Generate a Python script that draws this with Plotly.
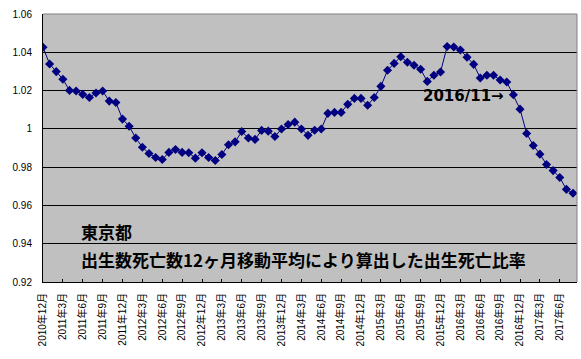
import plotly.graph_objects as go

# Monthly series 2010/12 .. 2017/8 (81 points)
start_year, start_month = 2010, 12
ratio = [
    1.0426, 1.0339, 1.0299, 1.0259, 1.0201, 1.0198, 1.0180, 1.0164, 1.0187, 1.0198,
    1.0145, 1.0138, 1.0051, 1.0014, 0.9952, 0.9904, 0.9871, 0.9850, 0.9840, 0.9877,
    0.9892, 0.9877, 0.9875, 0.9847, 0.9875, 0.9850, 0.9835, 0.9866, 0.9917, 0.9932,
    0.9986, 0.9952, 0.9945, 0.9992, 0.9988, 0.9960, 0.9999, 1.0023, 1.0035, 0.9999,
    0.9966, 0.9993, 0.9999, 1.0081, 1.0086, 1.0086, 1.0128, 1.0159, 1.0159, 1.0123,
    1.0164, 1.0222, 1.0306, 1.0342, 1.0377, 1.0348, 1.0332, 1.0311, 1.0248, 1.0280,
    1.0297, 1.0430, 1.0428, 1.0412, 1.0374, 1.0337, 1.0266, 1.0280, 1.0280, 1.0255,
    1.0245, 1.0178, 1.0103, 0.9976, 0.9913, 0.9868, 0.9814, 0.9782, 0.9746, 0.9684,
    0.9664,
]

months = []
y, m = start_year, start_month
for _ in ratio:
    months.append(f"{y}年{m}月")
    m += 1
    if m > 12:
        m = 1
        y += 1

x_idx = list(range(len(ratio)))
tick_idx = x_idx[::3]
tick_text = [months[i] for i in tick_idx]

y_ticks = [0.92, 0.94, 0.96, 0.98, 1.00, 1.02, 1.04, 1.06]
y_text = ["0.92", "0.94", "0.96", "0.98", "1", "1.02", "1.04", "1.06"]

fig = go.Figure()
fig.add_trace(go.Scatter(
    x=x_idx, y=ratio, mode="lines+markers",
    line=dict(color="#000080", width=1),
    marker=dict(symbol="diamond", size=7, color="#000080"),
    showlegend=False, hoverinfo="skip",
))

font_lat = "Liberation Sans, Arial, Noto Sans CJK JP, sans-serif"
font_cjk = "Noto Sans CJK JP, sans-serif"

fig.update_layout(
    width=581, height=359,
    margin=dict(l=43, r=4, t=14, b=77),
    paper_bgcolor="white", plot_bgcolor="#c0c0c0",
    font=dict(family=font_lat, size=10, color="black"),
    xaxis=dict(
        range=[0, 80.6], tickmode="array", tickvals=tick_idx, ticktext=tick_text,
        tickangle=-90, showgrid=False, zeroline=False,
        showline=True, linecolor="black", linewidth=1,
        ticks="inside", ticklen=3, tickcolor="black",
        tickfont=dict(family=font_lat, size=10),
        ticklabelstandoff=6,
    ),
    yaxis=dict(
        range=[0.92, 1.06], tickmode="array", tickvals=y_ticks, ticktext=y_text,
        showgrid=True, gridcolor="black", gridwidth=1, zeroline=False,
        showline=True, linecolor="black", linewidth=1, ticks="",
        tickfont=dict(family=font_lat, size=10),
        ticklabelstandoff=8,
    ),
    shapes=[
        dict(type="line", xref="paper", yref="paper", x0=0, x1=1, y0=1, y1=1,
             line=dict(color="#808080", width=1), layer="above"),
        dict(type="line", xref="paper", yref="paper", x0=1, x1=1, y0=0, y1=1,
             line=dict(color="#808080", width=1), layer="above"),
    ],
    annotations=[
        dict(text="<b>東京都</b>", xref="paper", yref="paper", x=(79 - 43) / 534,
             y=(282 - 231) / 268, xanchor="left", yanchor="middle", showarrow=False,
             font=dict(family=font_cjk, size=17, color="black")),
        dict(text="<b>出生数死亡数12ヶ月移動平均により算出した出生死亡比率</b>",
             xref="paper", yref="paper", x=(79 - 43) / 534, y=(282 - 259) / 268,
             xanchor="left", yanchor="middle", showarrow=False,
             font=dict(family=font_cjk, size=17, color="black")),
        dict(text="<b>2016/11→</b>", xref="paper", yref="paper", x=(421 - 43) / 534,
             y=(282 - 96) / 268, xanchor="left", yanchor="middle", showarrow=False,
             font=dict(family="DejaVu Sans, sans-serif", size=15, color="black")),
    ],
)

fig.write_html("out.html", config={"displayModeBar": False},
               post_script="document.body.style.margin='0';document.body.style.padding='0';")
